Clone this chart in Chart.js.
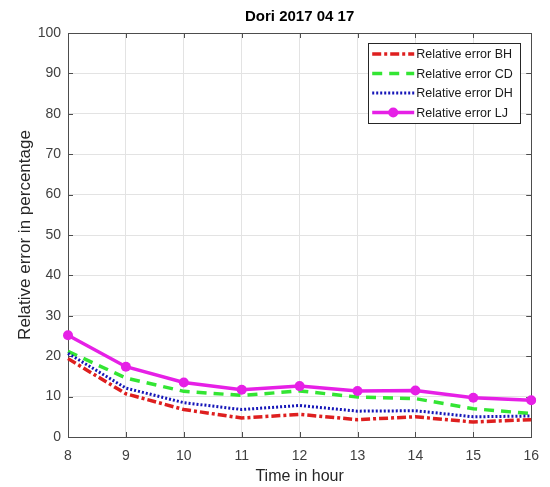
<!DOCTYPE html>
<html>
<head>
<meta charset="utf-8">
<script src="https://cdn.jsdelivr.net/npm/chart.js@4/dist/chart.umd.min.js"></script>
<style>
  html, body { margin: 0; padding: 0; background: #fff; }
  #wrap { width: 550px; height: 487px; }
</style>
</head>
<body>
<div id="wrap"><canvas id="chart"></canvas></div>
<script>
// data
const hours = [8, 9, 10, 11, 12, 13, 14, 15, 16];
const errBH = [19.4, 10.7, 6.8, 4.7, 5.6, 4.3, 5.0, 3.7, 4.3];
const errCD = [21.2, 14.6, 11.3, 10.3, 11.4, 9.9, 9.5, 7.0, 5.8];
const errDH = [20.7, 12.1, 8.5, 6.8, 7.8, 6.4, 6.5, 5.0, 5.2];
const errLJ = [25.2, 17.4, 13.5, 11.7, 12.6, 11.4, 11.5, 9.7, 9.1];
const yTicks = [0, 10, 20, 30, 40, 50, 60, 70, 80, 90, 100];

const FONT = '"Liberation Sans", Arial, sans-serif';

// matlab style: box around axes, ticks pointing inward, title, boxed legend
const matlabAxes = {
    id: 'matlabAxes',
    beforeDatasetsDraw(chart) {
        const ctx = chart.ctx;
        const a = chart.chartArea;
        const x = chart.scales.x, y = chart.scales.y;
        const tl = 5;
        ctx.save();
        ctx.strokeStyle = '#4d4d4d';
        ctx.lineWidth = 1;
        ctx.beginPath();
        hours.forEach((h, i) => {
            const px = Math.round(x.getPixelForValue(i)) + 0.5;
            ctx.moveTo(px, a.bottom); ctx.lineTo(px, a.bottom - tl);
            ctx.moveTo(px, a.top); ctx.lineTo(px, a.top + tl);
        });
        yTicks.forEach(v => {
            const py = Math.round(y.getPixelForValue(v)) + 0.5;
            ctx.moveTo(a.left, py); ctx.lineTo(a.left + tl, py);
            ctx.moveTo(a.right, py); ctx.lineTo(a.right - tl, py);
        });
        ctx.stroke();
        ctx.strokeRect(Math.round(a.left) + 0.5, Math.round(a.top) + 0.5,
            Math.round(a.right - a.left), Math.round(a.bottom - a.top));
        ctx.restore();
    },
    afterDraw(chart) {
        const ctx = chart.ctx;
        const a = chart.chartArea;
        ctx.save();
        // title
        ctx.fillStyle = '#000';
        ctx.font = 'bold 15px ' + FONT;
        ctx.textAlign = 'center';
        ctx.textBaseline = 'middle';
        ctx.fillText('Dori 2017 04 17', (a.left + a.right) / 2, 17);

        // legend
        const sets = chart.data.datasets;
        const bx = a.right - 163, by = a.top + 10, bw = 152, rowH = 19.5;
        const bh = rowH * sets.length + 2;
        ctx.fillStyle = '#fff';
        ctx.fillRect(bx, by, bw, bh);
        ctx.strokeStyle = '#262626';
        ctx.lineWidth = 1;
        ctx.strokeRect(Math.round(bx) + 0.5, Math.round(by) + 0.5, bw, Math.round(bh));
        ctx.font = '12.5px ' + FONT;
        ctx.textAlign = 'left';
        sets.forEach((ds, i) => {
            const ry = by + 11 + i * rowH;
            ctx.strokeStyle = ds.borderColor;
            ctx.lineWidth = ds.borderWidth;
            ctx.setLineDash(ds.borderDash || []);
            ctx.beginPath();
            ctx.moveTo(bx + 4, ry);
            ctx.lineTo(bx + 46, ry);
            ctx.stroke();
            ctx.setLineDash([]);
            if (ds.pointRadius > 0) {
                ctx.fillStyle = ds.borderColor;
                ctx.beginPath();
                ctx.arc(bx + 25, ry, ds.pointRadius, 0, Math.PI * 2);
                ctx.fill();
            }
            ctx.fillStyle = '#1a1a1a';
            ctx.fillText(ds.label, bx + 48, ry + 1);
        });
        ctx.restore();
    }
};

const chart = new Chart(document.getElementById('chart'), {
    type: 'line',
    data: {
        labels: hours,
        datasets: [
            {
                label: 'Relative error BH', data: errBH, order: 4,
                borderColor: '#de1f1f', borderWidth: 3.5, borderDash: [9, 3, 3, 3],
                pointRadius: 0, fill: false, tension: 0
            },
            {
                label: 'Relative error CD', data: errCD, order: 3,
                borderColor: '#33e533', borderWidth: 3.5, borderDash: [10, 7],
                pointRadius: 0, fill: false, tension: 0
            },
            {
                label: 'Relative error DH', data: errDH, order: 2,
                borderColor: '#1616b8', borderWidth: 3, borderDash: [2, 2],
                pointRadius: 0, fill: false, tension: 0
            },
            {
                label: 'Relative error LJ', data: errLJ, order: 1,
                borderColor: '#e620e6', backgroundColor: '#e620e6', borderWidth: 3.5,
                pointRadius: 5, pointBackgroundColor: '#e620e6', pointBorderWidth: 0,
                fill: false, tension: 0
            }
        ]
    },
    options: {
        responsive: true,
        maintainAspectRatio: false,
        animation: false,
        events: [],
        layout: { padding: { top: 33, right: 18, left: 0, bottom: 0 } },
        plugins: {
            legend: { display: false },
            title: { display: false },
            tooltip: { enabled: false }
        },
        scales: {
            x: {
                type: 'category',
                offset: false,
                grid: { color: '#e3e3e3', drawTicks: false },
                border: { display: false },
                ticks: { color: '#404040', font: { family: FONT, size: 14 }, padding: 11, maxRotation: 0 },
                title: { display: true, text: 'Time in hour', color: '#262626', font: { family: FONT, size: 16 }, padding: { top: 0, bottom: 1 } },
                afterFit(scale) { scale.height = 50; }
            },
            y: {
                min: 0, max: 100,
                grid: { color: '#e3e3e3', drawTicks: false },
                border: { display: false },
                ticks: { stepSize: 10, color: '#404040', font: { family: FONT, size: 14 }, padding: 7 },
                title: { display: true, text: 'Relative error in percentage', color: '#262626', font: { family: FONT, size: 17 }, padding: { top: 15, bottom: 0 } },
                afterFit(scale) { scale.width = 68; }
            }
        }
    },
    plugins: [matlabAxes]
});
</script>
</body>
</html>
